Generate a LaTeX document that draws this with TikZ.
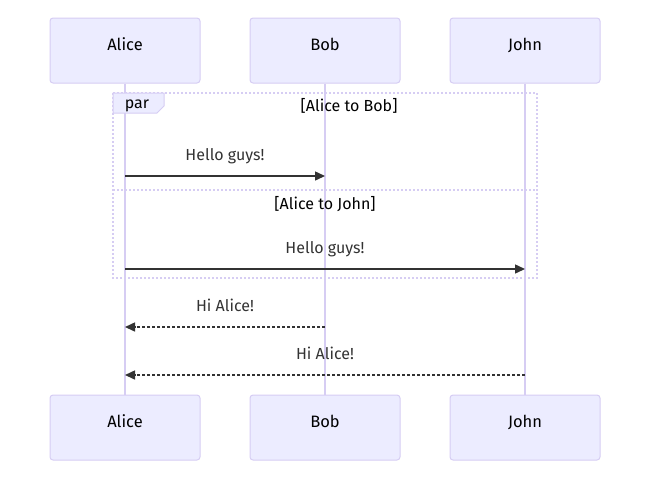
\documentclass[tikz,border=0pt]{standalone}
\usepackage{fontspec}
\setmainfont{Fira Sans}
\usetikzlibrary{arrows.meta}
\definecolor{actfill}{HTML}{ECECFF}
\definecolor{actline}{HTML}{D6CDF3}
\definecolor{txt}{HTML}{333333}
\tikzset{
  actor/.style={draw=actline, fill=actfill, rounded corners=3pt, line width=1pt,
    minimum width=150pt, minimum height=65pt, inner sep=0pt,
    text height=0pt, text depth=0pt,
    font=\fontsize{16.5}{19}\selectfont, text=black},
  lifeline/.style={draw=actline, line width=2pt},
  msg/.style={draw=txt, line width=1.5pt, -{Triangle[length=10pt,width=9pt]}},
  reply/.style={msg, dash pattern=on 3pt off 2pt},
  msgtext/.style={font=\fontsize{16}{19}\selectfont, text=txt, anchor=base, inner sep=0pt},
  parline/.style={draw=actline, line width=1.5pt, dash pattern=on 2pt off 2pt}
}
\begin{document}
\begin{tikzpicture}[x=1pt,y=-1pt]
  \useasboundingbox (0,0) rectangle (650,480);

  % actors
  \node[actor] (alice) at (125,50.5) {Alice};
  \node[actor] (bob) at (325,50.5) {Bob};
  \node[actor] (john) at (525,50.5) {John};
  \node[actor] (alice2) at (125,427.5) {Alice};
  \node[actor] (bob2) at (325,427.5) {Bob};
  \node[actor] (john2) at (525,427.5) {John};

  \draw[lifeline] (alice) -- (alice2);
  \draw[lifeline] (bob) -- (bob2);
  \draw[lifeline] (john) -- (john2);

  % par block
  \draw[parline] (113,93) rectangle (537,278);
  \draw[parline] (113,190) -- (537,190);
  \draw[draw=actline, fill=actfill, line width=1pt]
    (113,93) -- (164,93) -- (164,106) -- (157,113) -- (113,113) -- cycle;
  \node[msgtext, text=black] (parlabel) at (137,108) {par};
  \node[msgtext, text=black] (sect1) at (349,111) {[Alice to Bob]};
  \node[msgtext, text=black] (sect2) at (325,209) {[Alice to John]};

  % messages
  \coordinate (a1) at (125,176);
  \coordinate (b1) at (325,176);
  \coordinate (a2) at (125,269);
  \coordinate (j2) at (525,269);
  \coordinate (b3) at (325,327);
  \coordinate (a3) at (125,327);
  \coordinate (j4) at (525,375);
  \coordinate (a4) at (125,375);

  \draw[msg] (a1) -- (b1);
  \draw[msg] (a2) -- (j2);
  \draw[reply] (b3) -- (a3);
  \draw[reply] (j4) -- (a4);

  \node[msgtext] (m1) at (225,160) {Hello guys!};
  \node[msgtext] (m2) at (325,253) {Hello guys!};
  \node[msgtext] (m3) at (225,311) {Hi Alice!};
  \node[msgtext] (m4) at (325,359) {Hi Alice!};
\end{tikzpicture}
\end{document}
